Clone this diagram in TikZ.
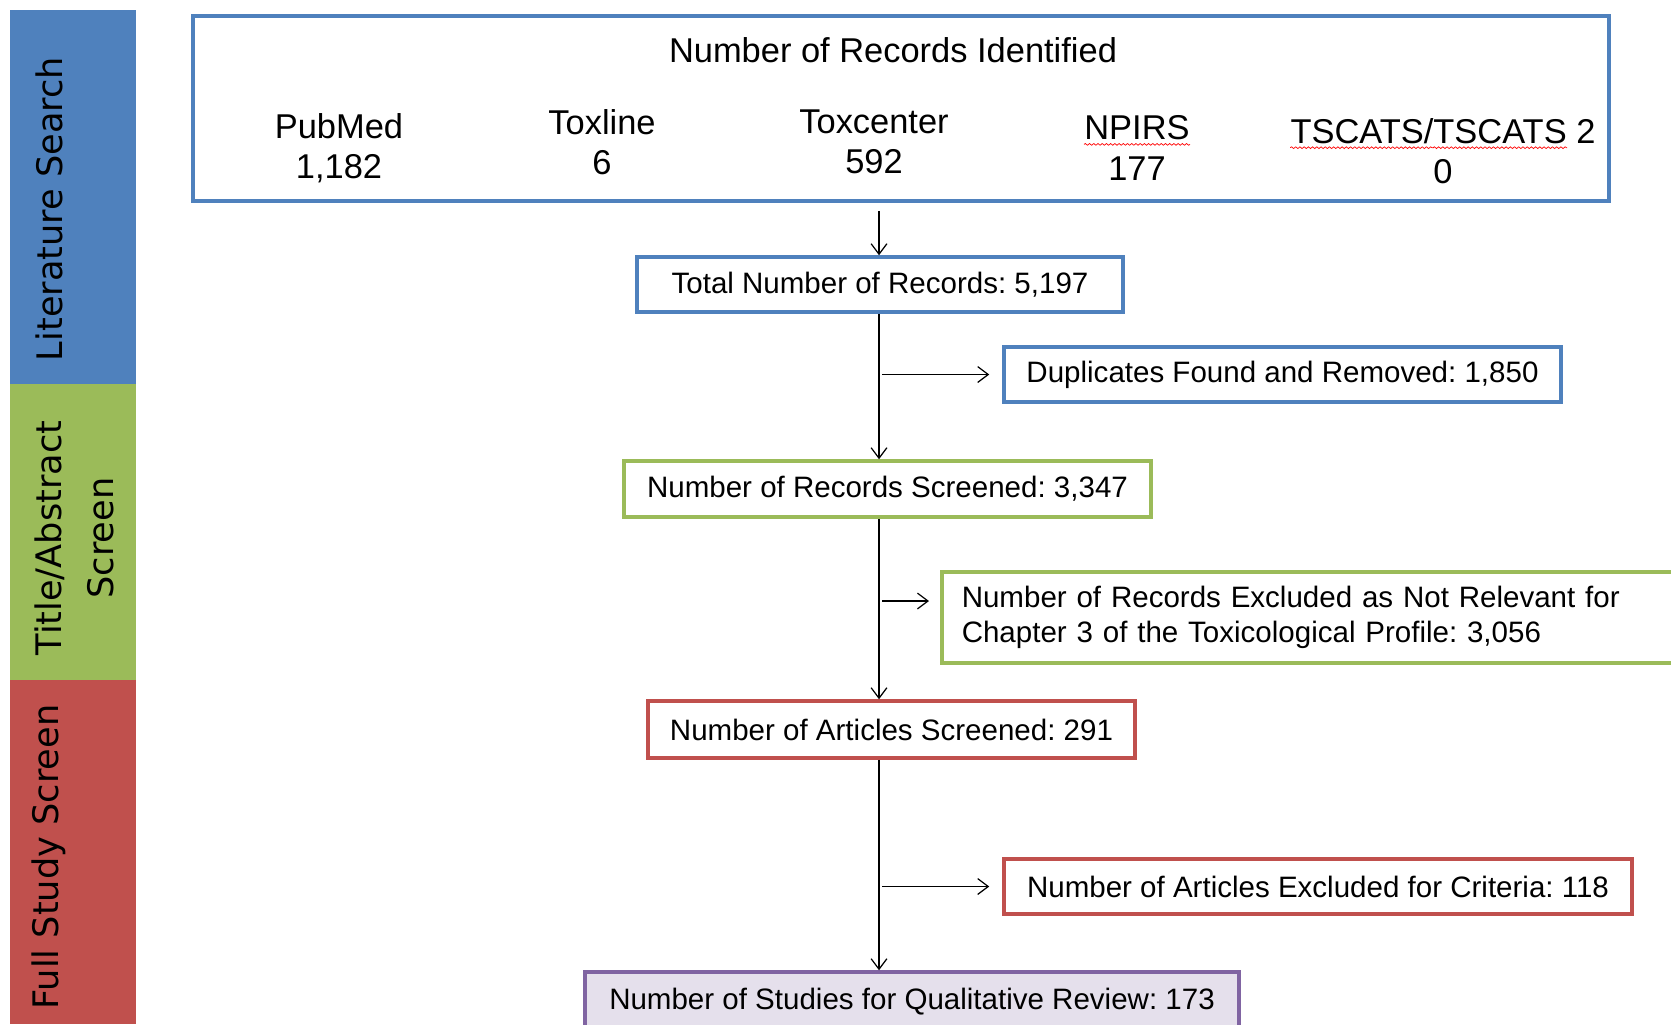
\documentclass[tikz,border=0pt]{standalone}
\usepackage{fontspec}
\setmainfont{Liberation Sans}
\newfontfamily\bandfont{DejaVu Sans}
\usepackage{xcolor}
\usetikzlibrary{positioning,calc,arrows.meta,decorations.pathmorphing}
\frenchspacing

\definecolor{litblue}{HTML}{4F81BD}
\definecolor{absgreen}{HTML}{9BBB59}
\definecolor{fullred}{HTML}{C0504D}
\definecolor{qualpurple}{HTML}{8064A2}
\definecolor{qualfill}{HTML}{E5E0EC}

\tikzset{
    stage/.style={draw, line width=2pt, fill=white, inner sep=0pt, font=\fontsize{16.8}{20}\selectfont},
    arr/.style={-{Straight Barb[length=6pt,width=9pt]}, line width=0.7pt},
    band/.style={rotate=90, align=center, font=\bandfont\fontsize{20}{30}\selectfont},
    source/.style={align=center, font=\fontsize{19.6}{23}\selectfont}
}

% red wavy spell-check line under a word
\newcommand{\spellmark}[1]{\tikz[baseline=(w.base)]{\node[inner sep=0pt] (w) {#1};
    \draw[overlay, red, line width=0.4pt, decorate, decoration={snake, amplitude=0.5pt, segment length=2.4pt}]
    ([yshift=-2.6pt]w.base west) -- ([yshift=-2.6pt]w.base east);}}

\begin{document}
\begin{tikzpicture}
    \useasboundingbox (0,0) rectangle (33.42,-20.48);

    % Stage bands
    \draw[fill=litblue, draw=none] (0.2,-0.2) rectangle (2.71,-7.68);
    \draw[fill=absgreen, draw=none] (0.2,-7.68) rectangle (2.71,-13.6);
    \draw[fill=fullred, draw=none] (0.2,-13.6) rectangle (2.71,-20.48);
    \node[band] (litband) at (0.98,-4.18) {Literature Search};
    \node[band] (absband) at (1.49,-10.76) {Title/Abstract\\Screen};
    \node[band] (fullband) at (0.98,-17.14) {Full Study Screen};

    % Records identified
    \node[draw=litblue, line width=2pt, minimum width=28.32cm, minimum height=3.7cm, inner sep=0pt] (main) at (18.02,-2.17) {};
    \node[source] (title) at (17.86,-1.0) {Number of Records Identified};
    \node[source] (pubmed) at (6.78,-2.96) {PubMed\\1,182};
    \node[source] (toxline) at (12.04,-2.84) {Toxline\\6};
    \node[source] (toxcenter) at (17.48,-2.84) {Toxcenter\\592};
    \node[source] (npirs) at (22.74,-2.96) {\spellmark{NPIRS}\\177};
    \node[source] (tscats) at (28.86,-3.02) {\spellmark{TSCATS/}\spellmark{TSCATS} 2\\0};

    % Flow boxes
    \node[stage, draw=litblue, minimum width=9.72cm, minimum height=1.1cm] (total) at (17.6,-5.69) {Total Number of Records: 5,197};
    \node[stage, draw=litblue, minimum width=11.14cm, minimum height=1.1cm] (dup) at (25.65,-7.49) {Duplicates Found and Removed: 1,850};
    \node[stage, draw=absgreen, minimum width=10.54cm, minimum height=1.12cm] (screened) at (17.75,-9.78) {Number of Records Screened: 3,347};
    \node[stage, draw=absgreen, anchor=west, text width=14.7cm, inner xsep=0.4cm, minimum height=1.82cm, align=left] (excluded) at (18.8,-12.35) {Number of Records Excluded as Not Relevant for\\Chapter 3 of the Toxicological Profile: 3,056};
    \node[stage, draw=fullred, minimum width=9.74cm, minimum height=1.14cm] (articles) at (17.83,-14.59) {Number of Articles Screened: 291};
    \node[stage, draw=fullred, minimum width=12.56cm, minimum height=1.1cm] (criteria) at (26.36,-17.73) {Number of Articles Excluded for Criteria: 118};
    \node[stage, draw=qualpurple, fill=qualfill, minimum width=13.08cm, minimum height=1.2cm] (qual) at (18.24,-20.04) {Number of Studies for Qualitative Review: 173};

    % Connectors
    \coordinate (trunk) at (17.58,0);
    \draw[arr, shorten <=0.16cm] (trunk |- main.south) -- (trunk |- total.north);
    \draw[arr] (trunk |- total.south) -- (trunk |- screened.north);
    \draw[arr] (trunk |- screened.south) -- (trunk |- articles.north);
    \draw[arr] (trunk |- articles.south) -- (trunk |- qual.north);
    \draw[arr, shorten <=0.06cm, shorten >=0.26cm] (trunk |- dup.west) -- (dup.west);
    \draw[arr, shorten <=0.06cm, shorten >=0.22cm] ([yshift=0.33cm]trunk |- excluded.west) -- ([yshift=0.33cm]excluded.west);
    \draw[arr, shorten <=0.06cm, shorten >=0.26cm] (trunk |- criteria.west) -- (criteria.west);
\end{tikzpicture}
\end{document}
